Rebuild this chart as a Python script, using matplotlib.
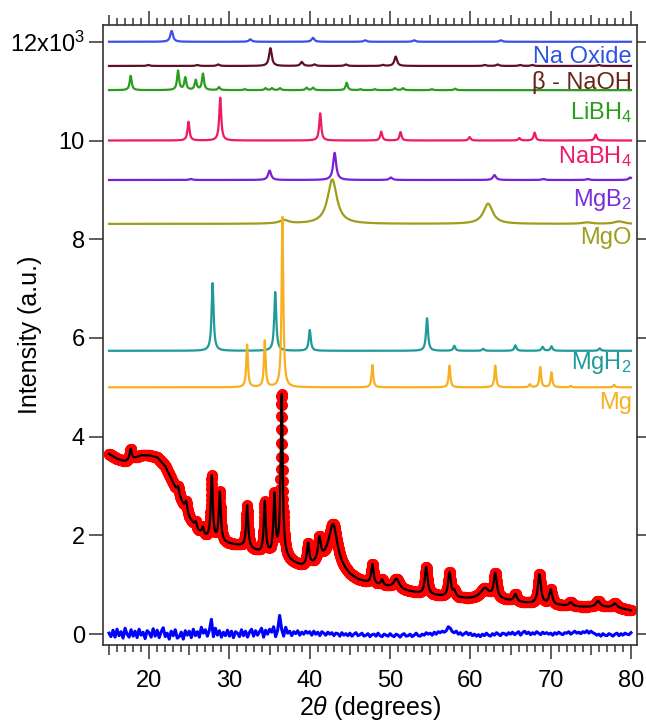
import numpy as np
import matplotlib
matplotlib.use('Agg')
import matplotlib.pyplot as plt
from matplotlib.ticker import MultipleLocator, FixedLocator, FuncFormatter

plt.rcParams['font.family'] = ['Liberation Sans', 'DejaVu Sans']
plt.rcParams['mathtext.fontset'] = 'custom'
plt.rcParams['mathtext.rm'] = 'Liberation Sans'
plt.rcParams['mathtext.it'] = 'Liberation Sans:italic'
plt.rcParams['font.size'] = 17


# Reference phases: baseline offset (x10^3), peak positions (deg), heights, FWHM
na_oxide_pos = [22.8, 32.6, 40.4, 46.9, 53.0, 63.8]
na_oxide_amp = [0.22, 0.05, 0.08, 0.03, 0.03, 0.03]

naoh_pos = [19.9, 26.0, 28.6, 35.1, 39.0, 40.6, 44.5, 49.1, 50.7, 61.8, 63.4, 66.2, 67.7, 76.0]
naoh_amp = [0.02, 0.02, 0.03, 0.36, 0.08, 0.03, 0.03, 0.02, 0.19, 0.02, 0.03, 0.02, 0.02, 0.02]

libh4_pos = [17.7, 23.6, 24.5, 25.8, 26.7, 28.7, 31.9, 34.5, 35.3, 36.3, 39.6, 40.4,
             44.6, 46.3, 48.1, 50.6, 51.6, 55.2, 58.1]
libh4_amp = [0.29, 0.39, 0.25, 0.20, 0.33, 0.06, 0.02, 0.04, 0.04, 0.04, 0.05, 0.05,
             0.15, 0.02, 0.02, 0.04, 0.04, 0.02, 0.03]

nabh4_pos = [24.9, 28.85, 41.3, 48.9, 51.3, 59.9, 66.1, 68.0, 75.6]
nabh4_amp = [0.38, 0.87, 0.55, 0.18, 0.17, 0.07, 0.05, 0.16, 0.12]

mgb2_pos = [25.2, 35.0, 43.1, 50.1, 63.0, 69.1, 74.6, 79.9]
mgb2_amp = [0.02, 0.19, 0.55, 0.05, 0.10, 0.02, 0.02, 0.05]

mgo_pos = [36.8, 42.8, 62.2, 74.5, 78.5]
mgo_amp = [0.07, 0.90, 0.41, 0.03, 0.05]

mgh2_pos = [27.9, 35.7, 40.0, 54.6, 58.0, 61.6, 65.6, 69.0, 70.1, 76.1]
mgh2_amp = [1.37, 1.19, 0.42, 0.66, 0.10, 0.04, 0.11, 0.08, 0.09, 0.05]

mg_pos = [32.2, 34.4, 36.6, 47.8, 57.4, 63.1, 67.4, 68.7, 70.1, 72.5, 77.9]
mg_amp = [0.86, 0.94, 3.45, 0.45, 0.44, 0.44, 0.06, 0.41, 0.30, 0.03, 0.05]

phase_names = ['Na Oxide', 'β - NaOH', 'LiBH$_4$', 'NaBH$_4$', 'MgB$_2$', 'MgO', 'MgH$_2$', 'Mg']
phase_offset = [12.0, 11.51, 11.02, 10.0, 9.2, 8.31, 5.74, 5.0]
phase_fwhm = [0.4, 0.4, 0.3, 0.3, 0.45, 1.4, 0.3, 0.25]
phase_label_y = [11.7, 11.17, 10.56, 9.67, 8.79, 8.02, 5.49, 4.68]
phase_line_color = ['#3a50e6', '#5e1126', '#2a9d1e', '#ee1a68', '#7a1fd6', '#9e9d1c', '#1f9a9a', '#f8b020']
phase_text_color = ['#2d55e0', '#6a2416', '#2a9d1e', '#ee1a68', '#7a2fd8', '#9e9d1c', '#1f9a9a', '#f8b020']

# Measured pattern: background knots and fitted peaks
bg_tt = [15, 16, 17, 18, 19, 20, 21, 22, 23, 24, 25, 26, 27, 28, 30, 32, 34, 35, 37, 38, 39,
         40, 41, 42, 43, 44, 45, 46, 48, 50, 52, 54, 56, 58, 60, 62, 64, 66, 68, 70, 72,
         74, 76, 78, 80]
bg_int = [3.65, 3.55, 3.5, 3.55, 3.62, 3.62, 3.58, 3.4, 3.05, 2.7, 2.35, 2.1, 1.95, 1.88, 1.82,
          1.76, 1.62, 1.58, 1.5, 1.42, 1.36, 1.35, 1.42, 1.45, 1.42, 1.28, 1.16, 1.08, 0.99,
          0.94, 0.87, 0.81, 0.77, 0.73, 0.71, 0.72, 0.69, 0.64, 0.61, 0.59, 0.57, 0.55, 0.55,
          0.54, 0.48]

obs_pos = [17.7, 23.6, 24.6, 25.8, 26.7, 27.8, 28.8, 32.2, 34.4, 35.6, 36.5, 39.8, 41.2, 42.9,
           47.8, 49.0, 50.8, 54.5, 57.4, 58.0, 61.8, 63.1, 65.6, 68.6, 70.0, 72.5, 75.9, 78.0]
obs_amp = [0.22, 0.15, 0.2, 0.12, 0.15, 1.3, 1.0, 0.85, 1.05, 1.2, 3.3, 0.45, 0.45, 0.8,
           0.4, 0.12, 0.2, 0.55, 0.5, 0.12, 0.2, 0.5, 0.15, 0.6, 0.3, 0.08, 0.12, 0.08]
obs_fwhm = [0.3, 0.3, 0.3, 0.3, 0.3, 0.3, 0.3, 0.3, 0.3, 0.3, 0.3, 0.35, 0.4, 1.3,
            0.35, 0.35, 0.8, 0.4, 0.4, 0.4, 1.3, 0.45, 0.45, 0.45, 0.45, 0.5, 0.6, 0.6]

# Difference curve (obs - calc), every 0.25 deg from 15 to 80
diff_int = [
    0.02, -0.05, 0.08, -0.06, 0.1, -0.03, 0.05, -0.08, 0.12, 0.0, -0.06, 0.09, -0.04, 0.06, -0.07, 0.1, -0.02, 0.04, -0.09, 0.07,
    0.03, -0.06, 0.11, -0.04, 0.08, -0.07, 0.05, 0.13, -0.05, 0.02, -0.1, 0.06, -0.03, 0.09, -0.08, -0.05, 0.04, -0.1, 0.07, -0.02,
    0.06, -0.07, 0.1, -0.03, 0.05, -0.06, 0.14, 0.02, 0.09, -0.04, 0.08, 0.3, -0.05, 0.12, -0.02, 0.07, -0.06, 0.04, -0.03, 0.08,
    -0.04, 0.06, -0.07, 0.05, 0.02, -0.05, 0.09, -0.03, 0.06, -0.06, 0.04, 0.1, -0.04, 0.07, -0.02, 0.05, 0.12, -0.06, 0.08, 0.0,
    0.1, 0.04, 0.15, -0.05, 0.08, 0.38, 0.1, -0.04, 0.14, 0.02, 0.06, -0.03, 0.05, 0.01, 0.07, -0.02, 0.04, 0.0, 0.06, 0.02,
    0.05, -0.02, 0.06, 0.0, 0.04, -0.03, 0.05, 0.02, -0.02, 0.04, 0.0, 0.03, -0.03, 0.02, 0.01, -0.04, 0.03, -0.02, 0.01, -0.03,
    0.02, -0.04, 0.0, 0.03, -0.03, -0.01, 0.02, -0.04, -0.02, 0.01, -0.05, -0.01, 0.0, -0.04, 0.02, -0.03, -0.05, 0.0, -0.02, -0.04,
    0.01, -0.03, -0.05, 0.0, -0.02, -0.06, -0.01, 0.01, -0.04, -0.03, 0.0, -0.05, -0.02, 0.02, -0.03, -0.04, 0.0, -0.02, 0.03, 0.0,
    0.02, -0.02, 0.04, 0.0, 0.05, 0.03, 0.06, 0.04, 0.07, 0.15, 0.12, 0.05, 0.03, 0.06, 0.0, 0.03, -0.02, 0.01, 0.04, -0.01,
    0.02, -0.03, 0.0, -0.04, -0.01, -0.05, 0.0, -0.03, 0.02, -0.02, -0.04, 0.01, -0.02, 0.03, 0.0, -0.03, 0.02, 0.01, -0.02, 0.03,
    0.0, 0.04, -0.01, 0.02, 0.05, -0.02, 0.03, 0.06, 0.01, 0.04, -0.01, 0.03, 0.0, 0.05, 0.02, -0.01, 0.04, 0.01, 0.03, 0.0,
    0.02, -0.02, 0.03, 0.0, 0.04, 0.01, -0.01, 0.03, 0.02, 0.05, 0.0, 0.03, 0.06, 0.02, 0.04, 0.01, 0.05, 0.03, 0.07, 0.02,
    0.06, 0.03, 0.01, -0.02, 0.0, -0.04, 0.01, -0.02, -0.03, 0.01, -0.01, -0.04, 0.0, 0.02, -0.03, 0.01, -0.02, 0.02, 0.0, -0.01,
    0.03]


def lorentz(x, pos, amp, fwhm):
    y = np.zeros_like(x)
    for p, a, w in zip(pos, amp, np.broadcast_to(fwhm, len(pos))):
        y += a / (1 + ((x - p) / (w / 2))**2)
    return y


tt = np.arange(15, 80.001, 0.02)
tt_diff = np.arange(15, 80.001, 0.25)

phase_pos = [na_oxide_pos, naoh_pos, libh4_pos, nabh4_pos, mgb2_pos, mgo_pos, mgh2_pos, mg_pos]
phase_amp = [na_oxide_amp, naoh_amp, libh4_amp, nabh4_amp, mgb2_amp, mgo_amp, mgh2_amp, mg_amp]

calc = np.interp(tt, bg_tt, bg_int) + lorentz(tt, obs_pos, obs_amp, obs_fwhm)

fig = plt.figure(figsize=(6.46, 7.22), dpi=100)
ax = fig.add_axes([0.1594, 0.1066, 0.8267, 0.8588])

# Reference patterns, stacked
for i in range(len(phase_names)):
    y = phase_offset[i] + lorentz(tt, phase_pos[i], phase_amp[i], phase_fwhm[i])
    ax.plot(tt, y, color=phase_line_color[i], lw=1.6)
    ax.text(80.1, phase_label_y[i], phase_names[i], color=phase_text_color[i],
            ha='right', va='center', fontsize=17)

# Data, fit and difference
ax.plot(tt, calc, 'o', color='#ff0000', ms=8, mec='none')
ax.plot(tt, calc, color='black', lw=1.6)
ax.plot(tt_diff, diff_int, color='#0000ff', lw=2.2)

ax.set_xlim(14.25, 80.75)
ax.set_ylim(-0.22, 12.34)

ax.xaxis.set_major_locator(MultipleLocator(10))
ax.xaxis.set_minor_locator(FixedLocator([v for v in range(15, 81) if v % 5 != 0]))
ax.yaxis.set_major_locator(MultipleLocator(2))
ax.yaxis.set_major_formatter(FuncFormatter(lambda v, p: r'12x10$^3$' if abs(v - 12) < 1e-6 else '%d' % v))

frame_col = '#333333'
for s in ax.spines.values():
    s.set_color(frame_col)
    s.set_linewidth(1.2)
ax.tick_params(axis='x', which='both', direction='out', top=True, color=frame_col, width=1.1, pad=8)
ax.tick_params(axis='x', which='major', length=10)
ax.tick_params(axis='x', which='minor', length=5)
ax.tick_params(axis='y', which='both', direction='out', right=True, color=frame_col, width=1.1, length=10, pad=3)

# Mid-length ticks at the 5 deg positions, top and bottom
for loc in ['bottom', 'top']:
    sec = ax.secondary_xaxis(loc)
    sec.xaxis.set_major_locator(FixedLocator([15, 25, 35, 45, 55, 65, 75]))
    sec.tick_params(direction='out', length=7.5, width=1.1, color=frame_col, labelbottom=False, labeltop=False)
    sec.spines[loc].set_visible(False)

ax.set_xlabel(r'2$\it{\theta}$ (degrees)', fontsize=18)
ax.set_ylabel('Intensity (a.u.)', fontsize=18)
ax.xaxis.set_label_coords(0.5, -0.079)
ax.yaxis.set_label_coords(-0.114, 0.5)

fig.savefig('out.png', dpi=100)
